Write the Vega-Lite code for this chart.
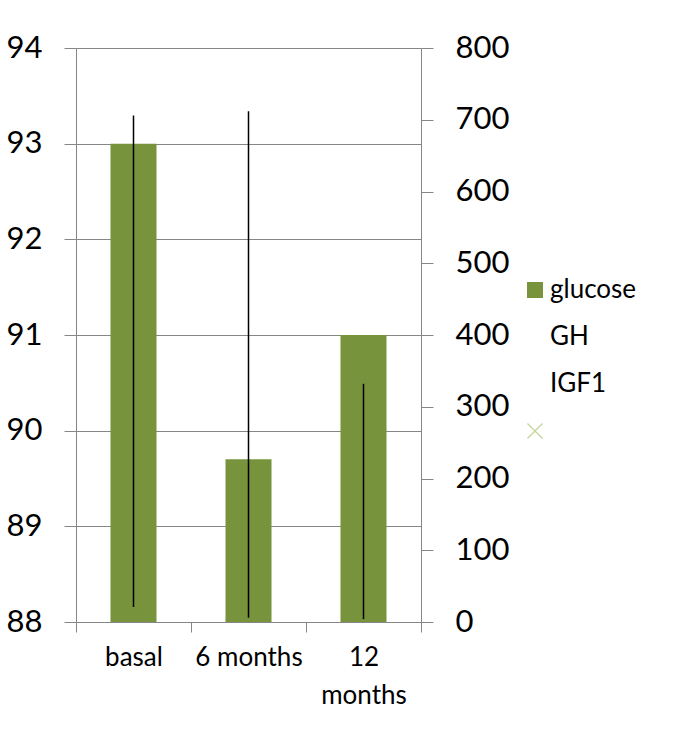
{
  "$schema": "https://vega.github.io/schema/vega-lite/v6.json",
  "autosize": {"type": "none"},
  "width": 345,
  "height": 574,
  "padding": {"left": 76, "top": 48, "right": 261, "bottom": 117},
  "background": "white",
  "config": {
    "view": {"stroke": null},
    "font": "Lato",
    "axis": {
      "labelFont": "Lato",
      "labelColor": "#000000",
      "domainColor": "#868686",
      "tickColor": "#868686",
      "gridColor": "#868686",
      "gridOpacity": 1,
      "title": null
    }
  },
  "data": {
    "values": [
      {"period": "basal", "glucose": 93.0, "GH": 21, "IGF1": 706},
      {"period": "6 months", "glucose": 89.7, "GH": 6, "IGF1": 712},
      {"period": "12 months", "glucose": 91.0, "GH": 4, "IGF1": 332}
    ]
  },
  "encoding": {
    "x": {
      "field": "period",
      "type": "nominal",
      "sort": ["basal", "6 months", "12 months"],
      "scale": {"paddingInner": 0, "paddingOuter": 0},
      "axis": {
        "title": null,
        "labelAngle": 0,
        "labelFontSize": 26,
        "labelLineHeight": 38,
        "labelPadding": 12,
        "ticks": true,
        "tickSize": 10,
        "tickBand": "extent",
        "domain": false,
        "labelExpr": "datum.label == '12 months' ? ['12', 'months'] : datum.label"
      }
    }
  },
  "layer": [
    {
      "mark": {"type": "bar", "color": "#77933c", "width": {"band": 0.4}},
      "encoding": {
        "y": {
          "field": "glucose",
          "type": "quantitative",
          "scale": {"domain": [88, 94], "zero": false, "nice": false},
          "axis": {
            "orient": "left",
            "values": [88, 89, 90, 91, 92, 93, 94],
            "grid": true,
            "tickSize": 12,
            "labelPadding": 22,
            "labelFontSize": 31,
            "labelBaseline": "middle"
          }
        },
        "y2": {"datum": 88}
      }
    },
    {
      "mark": {"type": "rule", "color": "#000000", "strokeWidth": 1.5},
      "encoding": {
        "y": {
          "field": "IGF1",
          "type": "quantitative",
          "scale": {"domain": [0, 800], "nice": false},
          "axis": {
            "orient": "right",
            "values": [0, 100, 200, 300, 400, 500, 600, 700, 800],
            "grid": false,
            "tickSize": 12,
            "labelPadding": 22,
            "labelFontSize": 31,
            "labelBaseline": "middle"
          }
        },
        "y2": {"field": "GH"}
      }
    },
    {
      "transform": [
        {"fold": ["glucose", "GH", "IGF1"], "as": ["series", "val"]},
        {"filter": "false"}
      ],
      "mark": {"type": "point", "filled": true, "size": 256},
      "encoding": {
        "color": {
          "field": "series",
          "type": "nominal",
          "scale": {
            "domain": ["glucose", "GH", "IGF1", " "],
            "range": ["#77933c", "rgba(0,0,0,0)", "rgba(0,0,0,0)", "#c3d69b"]
          },
          "legend": {
            "title": null,
            "orient": "none",
            "legendX": 446,
            "legendY": 229,
            "labelFont": "Lato",
            "labelFontSize": 26,
            "labelColor": "#000000",
            "labelOffset": 2,
            "rowPadding": 21,
            "symbolSize": 256,
            "symbolOpacity": 1,
            "symbolStrokeWidth": 0
          }
        },
        "shape": {
          "field": "series",
          "type": "nominal",
          "scale": {
            "domain": ["glucose", "GH", "IGF1", " "],
            "range": ["square", "circle", "circle", "M-1,-0.88L-0.88,-1L0,-0.12L0.88,-1L1,-0.88L0.12,0L1,0.88L0.88,1L0,0.12L-0.88,1L-1,0.88L-0.12,0Z"]
          },
          "legend": {
            "title": null,
            "orient": "none",
            "legendX": 446,
            "legendY": 229,
            "labelFont": "Lato",
            "labelFontSize": 26,
            "labelColor": "#000000",
            "labelOffset": 2,
            "rowPadding": 21,
            "symbolSize": 256,
            "symbolOpacity": 1,
            "symbolStrokeWidth": 0
          }
        }
      }
    }
  ],
  "resolve": {"scale": {"y": "independent"}}
}
